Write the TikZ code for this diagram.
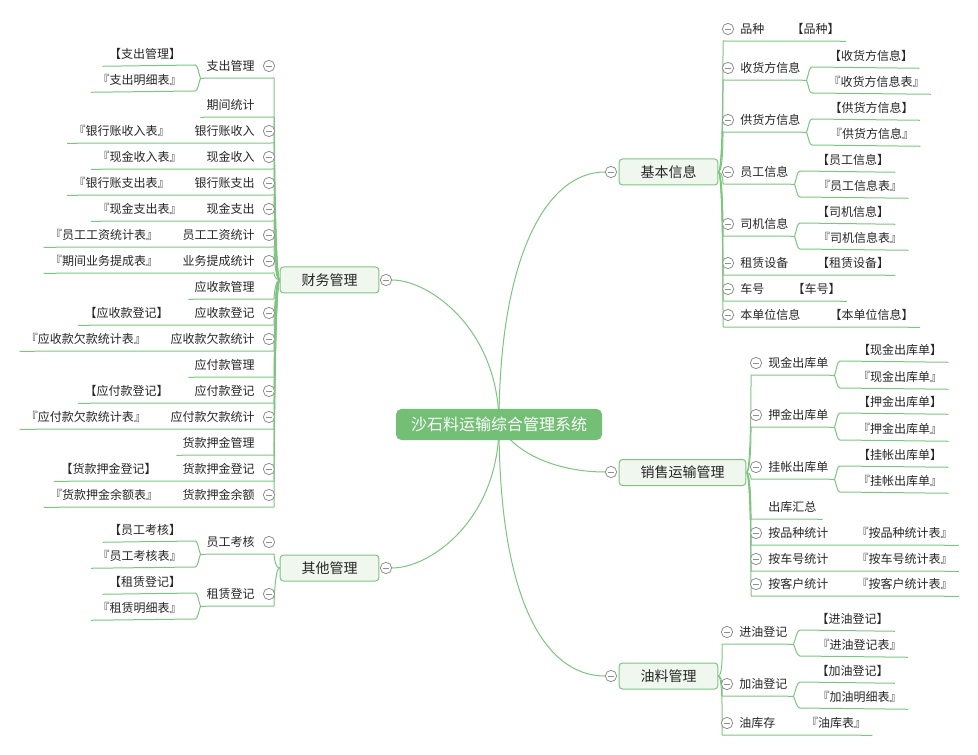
\documentclass[tikz,border=0pt]{standalone}
\usepackage{fontspec}
\newfontfamily\cjk{Noto Sans CJK SC}
\usetikzlibrary{calc,backgrounds}
\definecolor{lc}{HTML}{7FC481}
\definecolor{bf}{HTML}{EFF7EE}
\definecolor{cc}{HTML}{73BF76}
\definecolor{tc}{HTML}{262626}
\definecolor{cg}{HTML}{8F8F8F}
% left side helpers
\newcommand\Lkid[4]{%
  \node[txt,anchor=east] (#1) at (261,#2) {#3};
  \coordinate (#1r) at (274,#2+12);
  \draw[conn] (#4.west) .. controls +(-5,0) and (274,#2+12) .. (#1r);}
\newcommand\Lcirc[2]{\node[collapse] (#1c) at (269,#2) {};}
\newcommand\Lnone[1]{\draw[conn] (#1.south west) -- (#1r);}
\newcommand\Lone[4]{%
  \node[txt] (#1g) at (#3,#2) {#4};
  \draw[conn] (#1g.south west) -- (#1r);}
\newcommand\Ltwo[7]{%
  \node[txt] (#1a) at (#3,#2) {#4};
  \node[txt] (#1b) at (#6,#5) {#7};
  \coordinate (#1ja) at (195,#2+11);
  \coordinate (#1jb) at (195,#5+11);
  \draw[conn] (#1r) -- (#1.south west) .. controls +(-2,-5) and +(3,0) .. (#1ja) -- (#1a.south west);
  \draw[conn] (#1.south west) .. controls +(-2,5) and +(3,0) .. (#1jb) -- (#1b.south west);}
% right side helpers
\newcommand\Rkid[6]{%
  \node[txt,anchor=west] (#1) at (#6-6,#2) {#3};
  \coordinate (#1r) at (#5,#2+12);
  \draw[conn] (#4.east) .. controls +(5,0) and (#5,#2+12) .. (#1r);}
\newcommand\Rcirc[3]{\node[collapse] (#1c) at (#3,#2) {};}
\newcommand\Rnone[1]{\draw[conn] (#1r) -- (#1.south east);}
\newcommand\Rone[4]{%
  \node[txt] (#1g) at (#3,#2) {#4};
  \draw[conn] (#1r) -- (#1g.south east);}
\newcommand\Rtwo[8]{%
  \node[txt] (#1a) at (#3,#2) {#4};
  \node[txt] (#1b) at (#6,#5) {#7};
  \coordinate (#1ja) at (#8,#2+11);
  \coordinate (#1jb) at (#8,#5+11);
  \draw[conn] (#1r) -- (#1.south east) .. controls +(2,-5) and +(-3,0) .. (#1ja) -- (#1a.south east);
  \draw[conn] (#1.south east) .. controls +(2,5) and +(-3,0) .. (#1jb) -- (#1b.south east);}

\begin{document}
\begin{tikzpicture}[x=0.75pt,y=-0.75pt,
 conn/.style={draw=lc,line width=0.75pt},
 txt/.style={font=\cjk\fontsize{9pt}{9pt}\selectfont,text=tc,inner xsep=4.5pt,inner ysep=0pt,minimum height=18pt},
 branch/.style={draw=lc,fill=bf,rounded corners=2.5pt,line width=0.75pt,font=\cjk\fontsize{10.5pt}{10.5pt}\selectfont,text=tc,inner xsep=16pt,inner ysep=0pt,minimum height=19.5pt},
 central/.style={fill=cc,rounded corners=4pt,font=\cjk\fontsize{12pt}{12pt}\selectfont,text=white,inner xsep=11.25pt,inner ysep=0pt,minimum height=23.25pt},
 collapse/.style={circle,draw=cg,fill=white,line width=0.6pt,minimum size=8.5pt,inner sep=0pt,
   path picture={\draw[cg,line width=0.6pt] ([xshift=-2.6pt]path picture bounding box.center) -- ([xshift=2.6pt]path picture bounding box.center);}}]
\useasboundingbox (0,0) rectangle (978,755);

\node[central] (C) at (499,424.5) {沙石料运输综合管理系统};

\node[branch] (F) at (329.5,280) {财务管理};
\node[collapse] (Fc) at (386,280) {};
\node[branch] (Q) at (329.5,568) {其他管理};
\node[collapse] (Qc) at (386,568) {};
\node[branch] (B) at (668.5,172) {基本信息};
\node[collapse] (Bc) at (611,172) {};
\node[branch] (S) at (682.5,472.5) {销售运输管理};
\node[collapse] (Sc) at (611,472) {};
\node[branch] (O) at (668.5,676) {油料管理};
\node[collapse] (Oc) at (611,676) {};

\begin{pgfonlayer}{background}
\fill[white] (0,0) rectangle (978,755);
\draw[conn] (C.center) .. controls (499,330) and (430,280) .. (Fc.east);
\draw[conn] (C.center) .. controls (499,520) and (430,568) .. (Qc.east);
\draw[conn] (C.center) .. controls (499,260) and (545,172) .. (Bc.west);
\draw[conn] (C.center) .. controls (515,455) and (560,472) .. (Sc.west);
\draw[conn] (C.center) .. controls (499,600) and (545,676) .. (Oc.west);
\end{pgfonlayer}

% ---- 财务管理
\Lkid{f1}{66}{支出管理}{F}\Lcirc{f1}{66}
\Ltwo{f1}{54}{145}{【支出管理】}{80}{139.5}{『支出明细表』}
\Lkid{f2}{105}{期间统计}{F}\Lnone{f2}
\Lkid{f3}{131}{银行账收入}{F}\Lcirc{f3}{131}\Lone{f3}{131}{121.5}{『银行账收入表』}
\Lkid{f4}{157}{现金收入}{F}\Lcirc{f4}{157}\Lone{f4}{157}{139.5}{『现金收入表』}
\Lkid{f5}{183}{银行账支出}{F}\Lcirc{f5}{183}\Lone{f5}{183}{121.5}{『银行账支出表』}
\Lkid{f6}{209}{现金支出}{F}\Lcirc{f6}{209}\Lone{f6}{209}{139.5}{『现金支出表』}
\Lkid{f7}{235}{员工工资统计}{F}\Lcirc{f7}{235}\Lone{f7}{235}{104}{『员工工资统计表』}
\Lkid{f8}{261}{业务提成统计}{F}\Lcirc{f8}{261}\Lone{f8}{261}{104}{『期间业务提成表』}
\Lkid{f9}{287}{应收款管理}{F}\Lnone{f9}
\Lkid{f10}{313}{应收款登记}{F}\Lcirc{f10}{313}\Lone{f10}{313}{126.5}{【应收款登记】}
\Lkid{f11}{339}{应收款欠款统计}{F}\Lcirc{f11}{339}\Lone{f11}{339}{86}{『应收款欠款统计表』}
\Lkid{f12}{365}{应付款管理}{F}\Lnone{f12}
\Lkid{f13}{391}{应付款登记}{F}\Lcirc{f13}{391}\Lone{f13}{391}{126.5}{【应付款登记】}
\Lkid{f14}{417}{应付款欠款统计}{F}\Lcirc{f14}{417}\Lone{f14}{417}{86}{『应付款欠款统计表』}
\Lkid{f15}{443}{货款押金管理}{F}\Lnone{f15}
\Lkid{f16}{469}{货款押金登记}{F}\Lcirc{f16}{469}\Lone{f16}{469}{108.5}{【货款押金登记】}
\Lkid{f17}{495}{货款押金余额}{F}\Lcirc{f17}{495}\Lone{f17}{495}{104}{『货款押金余额表』}

% ---- 其他管理
\Lkid{q1}{542}{员工考核}{Q}\Lcirc{q1}{542}
\Ltwo{q1}{530}{145}{【员工考核】}{556}{139.5}{『员工考核表』}
\Lkid{q2}{594}{租赁登记}{Q}\Lcirc{q2}{594}
\Ltwo{q2}{582}{145}{【租赁登记】}{608}{139.5}{『租赁明细表』}

% ---- 基本信息
\Rkid{b1}{29}{品种}{B}{723}{740}\Rcirc{b1}{29}{728}\Rone{b1}{29}{815.5}{【品种】}
\Rkid{b2}{68}{收货方信息}{B}{723}{740}\Rcirc{b2}{68}{728}
\Rtwo{b2}{56}{871}{【收货方信息】}{82}{876.5}{『收货方信息表』}{812}
\Rkid{b3}{120}{供货方信息}{B}{723}{740}\Rcirc{b3}{120}{728}
\Rtwo{b3}{108}{871.5}{【供货方信息】}{134}{872}{『供货方信息』}{812}
\Rkid{b4}{172}{员工信息}{B}{723}{740}\Rcirc{b4}{172}{728}
\Rtwo{b4}{160}{853}{【员工信息】}{186}{860}{『员工信息表』}{800}
\Rkid{b5}{224}{司机信息}{B}{723}{740}\Rcirc{b5}{224}{728}
\Rtwo{b5}{212}{853}{【司机信息】}{238}{860}{『司机信息表』}{800}
\Rkid{b6}{263}{租赁设备}{B}{723}{740}\Rcirc{b6}{263}{728}\Rone{b6}{263}{853}{【租赁设备】}
\Rkid{b7}{289}{车号}{B}{723}{740}\Rcirc{b7}{289}{728}\Rone{b7}{289}{816.5}{【车号】}
\Rkid{b8}{315}{本单位信息}{B}{723}{740}\Rcirc{b8}{315}{728}\Rone{b8}{315}{871.5}{【本单位信息】}

% ---- 销售运输管理
\Rkid{s1}{363}{现金出库单}{S}{751}{768}\Rcirc{s1}{363}{756}
\Rtwo{s1}{350}{900}{【现金出库单】}{377}{900}{『现金出库单』}{840}
\Rkid{s2}{415}{押金出库单}{S}{751}{768}\Rcirc{s2}{415}{756}
\Rtwo{s2}{402}{900}{【押金出库单】}{429}{900}{『押金出库单』}{840}
\Rkid{s3}{467}{挂帐出库单}{S}{751}{768}\Rcirc{s3}{467}{756}
\Rtwo{s3}{455}{900}{【挂帐出库单】}{481}{900}{『挂帐出库单』}{840}
\Rkid{s4}{507}{出库汇总}{S}{751}{768}\Rnone{s4}
\Rkid{s5}{533}{按品种统计}{S}{751}{768}\Rcirc{s5}{533}{756}\Rone{s5}{533}{904.5}{『按品种统计表』}
\Rkid{s6}{559}{按车号统计}{S}{751}{768}\Rcirc{s6}{559}{756}\Rone{s6}{559}{904.5}{『按车号统计表』}
\Rkid{s7}{584}{按客户统计}{S}{751}{768}\Rcirc{s7}{584}{756}\Rone{s7}{584}{904.5}{『按客户统计表』}

% ---- 油料管理
\Rkid{o1}{632}{进油登记}{O}{722}{739}\Rcirc{o1}{632}{727}
\Rtwo{o1}{619}{852.5}{【进油登记】}{645}{859.5}{『进油登记表』}{800}
\Rkid{o2}{684}{加油登记}{O}{722}{739}\Rcirc{o2}{684}{727}
\Rtwo{o2}{671}{852.5}{【加油登记】}{697}{859.5}{『加油明细表』}{800}
\Rkid{o3}{723}{油库存}{O}{722}{739}\Rcirc{o3}{723}{727}\Rone{o3}{723}{836}{『油库表』}
\end{tikzpicture}
\end{document}
